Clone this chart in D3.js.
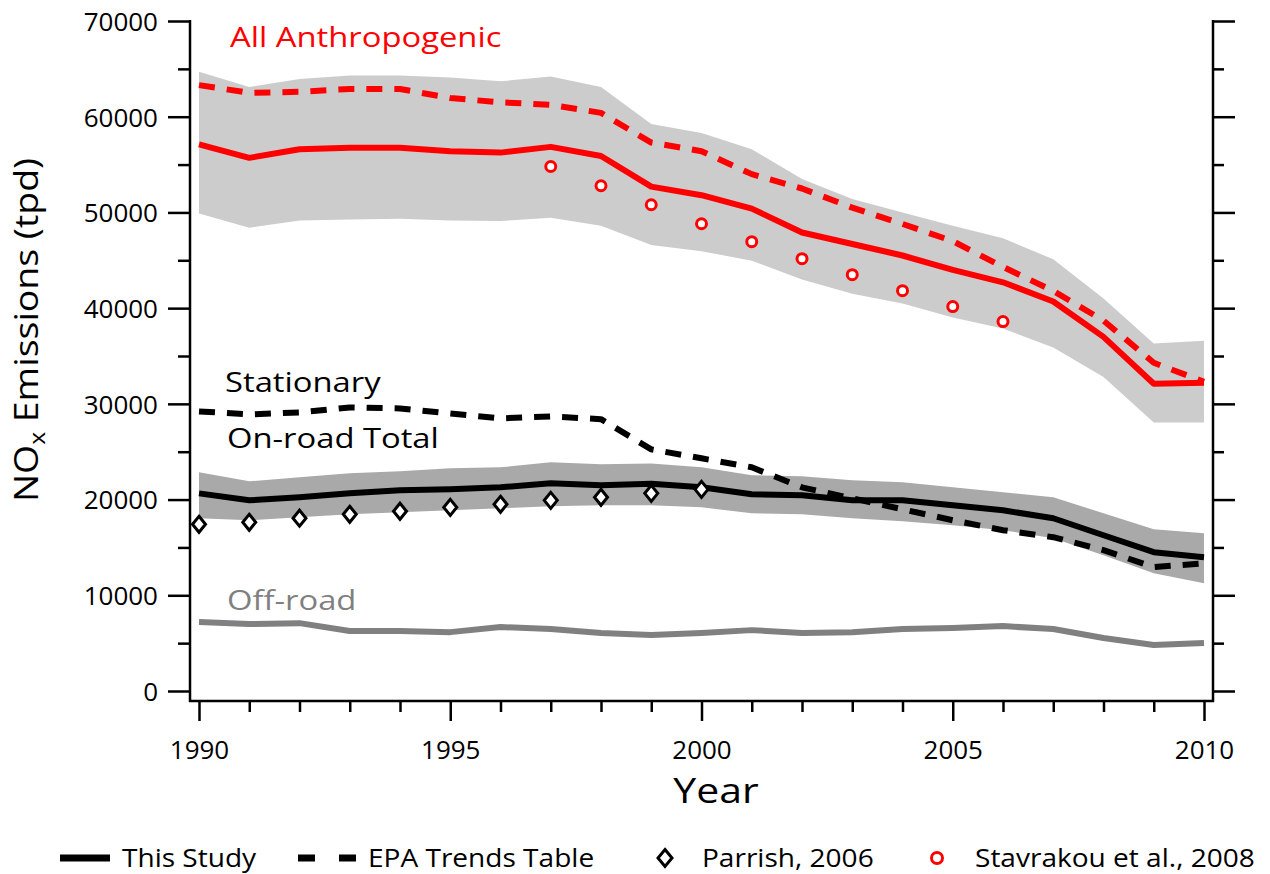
<!DOCTYPE html>
<html>
<head>
<meta charset="utf-8">
<script src="https://cdn.jsdelivr.net/npm/d3@7"></script>
<style>
  html, body { margin: 0; padding: 0; background: #fff; }
  svg { display: block; font-family: "Open Sans", "Noto Sans", sans-serif; }
</style>
</head>
<body>
<svg id="chart" width="1270" height="874"></svg>
<script>
// Annual NOx emissions (tons per day), 1990–2010
const years = [1990, 1991, 1992, 1993, 1994, 1995, 1996, 1997, 1998, 1999, 2000,
               2001, 2002, 2003, 2004, 2005, 2006, 2007, 2008, 2009, 2010];

// All anthropogenic sources
const allThisStudy = [57100, 55700, 56600, 56750, 56750, 56400, 56250, 56850, 55900, 52700, 51800,
                      50400, 47900, 46700, 45500, 44000, 42700, 40700, 37000, 32100, 32200];
const allUpper     = [64700, 63100, 63950, 64300, 64300, 64100, 63700, 64200, 63100, 59250, 58300,
                      56600, 53500, 51400, 50000, 48600, 47300, 45100, 41000, 36300, 36600];
const allLower     = [49900, 48400, 49150, 49250, 49350, 49150, 49100, 49450, 48600, 46600, 45950,
                      44960, 43000, 41500, 40480, 39010, 37870, 35890, 32800, 28060, 28060];
const allEPA       = [63300, 62500, 62600, 62900, 62900, 61950, 61500, 61250, 60400, 57300, 56400,
                      54000, 52500, 50500, 48800, 47000, 44300, 41800, 38700, 34300, 32300];

// On-road total
const onroadThisStudy = [20650, 19920, 20240, 20650, 20970, 21070, 21280, 21700, 21490, 21650, 21280,
                         20550, 20450, 19920, 19920, 19400, 18880, 18050, 16270, 14500, 13980];
const onroadUpper     = [22850, 21910, 22320, 22740, 22950, 23260, 23370, 23890, 23680, 23780, 23370,
                         22530, 22430, 22010, 21800, 21280, 20760, 20240, 18570, 16900, 16480];
const onroadLower     = [18050, 17840, 18150, 18460, 18670, 18880, 19090, 19300, 19400, 19400, 19190,
                         18570, 18460, 18050, 17730, 17320, 16800, 15960, 14190, 12310, 11270];
const onroadEPA       = [29210, 28900, 29100, 29630, 29520, 29000, 28480, 28690, 28400, 25240, 24310,
                         23370, 21280, 20130, 18990, 17840, 16800, 16070, 14710, 12940, 13350];

// Off-road
const offroad = [7200, 6990, 7090, 6260, 6260, 6150, 6680, 6470, 6050, 5840, 6050,
                 6360, 6050, 6150, 6470, 6570, 6780, 6470, 5530, 4800, 5010];

// Independent estimates
const parrishYears = [1990, 1991, 1992, 1993, 1994, 1995, 1996, 1997, 1998, 1999, 2000];
const parrish      = [17420, 17630, 18050, 18460, 18780, 19190, 19510, 19920, 20240, 20650, 21070];
const stavYears    = [1997, 1998, 1999, 2000, 2001, 2002, 2003, 2004, 2005, 2006];
const stavrakou    = [54800, 52790, 50800, 48820, 46940, 45170, 43500, 41830, 40160, 38600];

// Axis ticks
const yMajorTicks = [0, 10000, 20000, 30000, 40000, 50000, 60000, 70000];
const yMinorTicks = [5000, 15000, 25000, 35000, 45000, 55000, 65000];
const xMajorTicks = [1990, 1995, 2000, 2005, 2010];
const xMinorTicks = [1991, 1992, 1993, 1994, 1996, 1997, 1998, 1999,
                     2001, 2002, 2003, 2004, 2006, 2007, 2008, 2009];

// Series labels and legend entries
const seriesLabels = ["All Anthropogenic", "Stationary", "On-road Total", "Off-road"];
const legendLabels = ["This Study", "EPA Trends Table", "Parrish, 2006", "Stavrakou et al., 2008"];

const RED = "#ff0000", BLACK = "#000000", GREY = "#808080";
const LIGHT_BAND = "#cccccc", DARK_BAND = "#a9a9a9";
const STRETCH = 1.17;         // wide lettering for in-plot labels and titles
const LEGEND_STRETCH = 1.1;

const svg = d3.select("#chart");

const x = d3.scaleLinear().domain([1990, 2010]).range([199, 1204]);
const y = d3.scaleLinear().domain([0, 70000]).range([691, 21]);

const frame = { left: 190, right: 1213, top: 21, bottom: 701 };

const zip = (vals) => years.map((yr, i) => ({ yr, v: vals[i] }));
const zipBand = (lo, hi) => years.map((yr, i) => ({ yr, lo: lo[i], hi: hi[i] }));

const line = d3.line().x(d => x(d.yr)).y(d => y(d.v));
const area = d3.area().x(d => x(d.yr)).y0(d => y(d.lo)).y1(d => y(d.hi));

// uncertainty bands
svg.append("path").datum(zipBand(allLower, allUpper))
  .attr("d", area).attr("fill", LIGHT_BAND);
svg.append("path").datum(zipBand(onroadLower, onroadUpper))
  .attr("d", area).attr("fill", DARK_BAND);

// lines
const dash = "16,12";
function drawLine(vals, color, dashed) {
  svg.append("path").datum(zip(vals))
    .attr("d", line)
    .attr("fill", "none")
    .attr("stroke", color)
    .attr("stroke-width", 6)
    .attr("stroke-linejoin", "round")
    .attr("stroke-dasharray", dashed ? dash : null);
}
drawLine(offroad, GREY, false);
drawLine(onroadEPA, BLACK, true);
drawLine(onroadThisStudy, BLACK, false);
drawLine(allEPA, RED, true);
drawLine(allThisStudy, RED, false);

// Parrish diamonds
const diamond = (cx, cy, w, h) => `M${cx},${cy - h} L${cx + w},${cy} L${cx},${cy + h} L${cx - w},${cy} Z`;
svg.append("g").selectAll("path")
  .data(parrishYears.map((yr, i) => ({ yr, v: parrish[i] })))
  .join("path")
  .attr("d", d => diamond(x(d.yr), y(d.v), 6.5, 8))
  .attr("fill", "#fff").attr("stroke", BLACK).attr("stroke-width", 3);

// Stavrakou circles
svg.append("g").selectAll("circle")
  .data(stavYears.map((yr, i) => ({ yr, v: stavrakou[i] })))
  .join("circle")
  .attr("cx", d => x(d.yr)).attr("cy", d => y(d.v)).attr("r", 5)
  .attr("fill", "#fff").attr("stroke", RED).attr("stroke-width", 3);

// frame lines
function frameLine(x1, y1, x2, y2) {
  svg.append("line").attr("x1", x1).attr("y1", y1).attr("x2", x2).attr("y2", y2)
    .attr("stroke", BLACK).attr("stroke-width", 2.5);
}
frameLine(frame.left, frame.top - 1, frame.left, frame.bottom + 1);
frameLine(frame.right, frame.top - 1, frame.right, frame.bottom + 1);
frameLine(frame.left - 1, frame.bottom, frame.right + 1, frame.bottom);

// axes built from the scales
function styleAxis(g) {
  g.select(".domain").remove();
  g.selectAll(".tick line").attr("stroke", BLACK).attr("stroke-width", 2.5);
  g.selectAll(".tick text")
    .attr("font-family", "\"Open Sans\", sans-serif")
    .attr("font-size", 26).attr("fill", BLACK);
}

// left
svg.append("g").attr("transform", `translate(${frame.left},0)`)
  .call(d3.axisLeft(y).tickValues(yMajorTicks).tickSize(22).tickPadding(10).tickFormat(d3.format("d")))
  .call(styleAxis)
  .call(g => g.selectAll(".tick text").attr("dy", "0.36em"));
svg.append("g").attr("transform", `translate(${frame.left},0)`)
  .call(d3.axisLeft(y).tickValues(yMinorTicks).tickSize(12).tickFormat(""))
  .call(styleAxis);

// right
svg.append("g").attr("transform", `translate(${frame.right},0)`)
  .call(d3.axisRight(y).tickValues(yMajorTicks).tickSize(22).tickFormat(""))
  .call(styleAxis);
svg.append("g").attr("transform", `translate(${frame.right},0)`)
  .call(d3.axisRight(y).tickValues(yMinorTicks).tickSize(11).tickFormat(""))
  .call(styleAxis);

// bottom
svg.append("g").attr("transform", `translate(0,${frame.bottom})`)
  .call(d3.axisBottom(x).tickValues(xMajorTicks).tickSize(20).tickPadding(20).tickFormat(d3.format("d")))
  .call(styleAxis);
svg.append("g").attr("transform", `translate(0,${frame.bottom})`)
  .call(d3.axisBottom(x).tickValues(xMinorTicks).tickSize(11).tickFormat(""))
  .call(styleAxis);

// text helper: horizontally widened lettering anchored at (tx, ty)
function label(tx, ty, str, size, color, anchor, rotate, stretch) {
  const g = svg.append("g")
    .attr("transform", `translate(${tx},${ty})${rotate ? ` rotate(${rotate})` : ""} scale(${stretch || STRETCH},1)`);
  return g.append("text")
    .attr("x", 0).attr("y", 0)
    .attr("font-size", size)
    .attr("fill", color)
    .attr("text-anchor", anchor || "start")
    .text(str);
}

// series labels
label(230, 47, seriesLabels[0], 28, RED);
label(225, 392, seriesLabels[1], 28, BLACK);
label(227, 448, seriesLabels[2], 28, BLACK);
label(227, 610, seriesLabels[3], 28, GREY);

// axis titles
label(716, 803, "Year", 35, BLACK, "middle");
const yTitle = label(38, 330, "", 32, BLACK, "middle", -90);
yTitle.append("tspan").text("NO");
yTitle.append("tspan").attr("font-size", 21).attr("dy", 7).text("x");
yTitle.append("tspan").attr("dy", -7).text(" Emissions (tpd)");

// legend
const ly = 858;
svg.append("line").attr("x1", 60).attr("x2", 110).attr("y1", ly).attr("y2", ly)
  .attr("stroke", BLACK).attr("stroke-width", 7);
label(122, ly + 9, legendLabels[0], 25.5, BLACK, "start", 0, LEGEND_STRETCH);

svg.append("line").attr("x1", 298).attr("x2", 356).attr("y1", ly).attr("y2", ly)
  .attr("stroke", BLACK).attr("stroke-width", 7).attr("stroke-dasharray", "17,24");
label(368, ly + 9, legendLabels[1], 25.5, BLACK, "start", 0, LEGEND_STRETCH);

svg.append("path").attr("d", diamond(665, ly, 7, 8.5))
  .attr("fill", "#fff").attr("stroke", BLACK).attr("stroke-width", 3);
label(702, ly + 9, legendLabels[2], 25.5, BLACK, "start", 0, LEGEND_STRETCH);

svg.append("circle").attr("cx", 937).attr("cy", ly).attr("r", 5.5)
  .attr("fill", "#fff").attr("stroke", RED).attr("stroke-width", 3);
label(975, ly + 9, legendLabels[3], 25.5, BLACK, "start", 0, LEGEND_STRETCH);
</script>
</body>
</html>
